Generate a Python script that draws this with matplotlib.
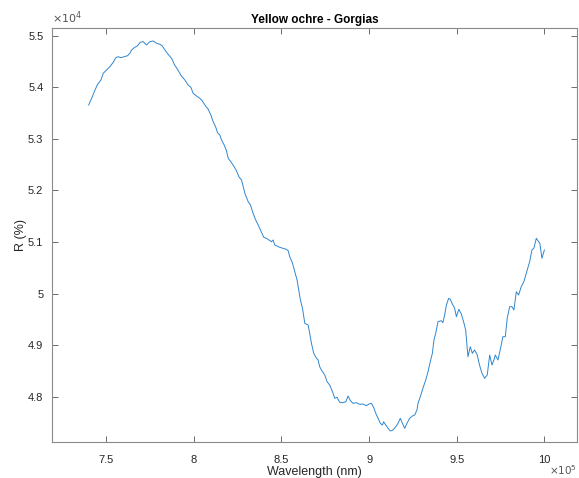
import matplotlib
matplotlib.use("Agg")
import matplotlib.pyplot as plt
import numpy as np
from matplotlib.ticker import FuncFormatter

# spectrum (wavelength in 1e3 nm units, reflectance)
wavelength_k = [740.0, 741.7, 743.6, 745.1, 747.0, 748.3, 750.2, 752.1, 754.0, 755.5,
                756.8, 758.4, 760.3, 762.2, 763.5, 764.5, 766.0, 767.9, 769.4, 771.1,
                773.0, 774.9, 776.8, 778.7, 780.6, 781.9, 783.5, 785.3, 787.3, 788.8,
                790.9, 792.9, 794.9, 796.7, 798.3, 799.6, 801.5, 803.4, 804.7, 806.7,
                808.2, 809.7, 811.0, 812.4, 813.5, 814.8, 815.8, 817.3, 818.6, 819.6,
                821.1, 823.0, 824.3, 825.7, 827.2, 828.1, 829.1, 831.0, 832.3, 833.8,
                835.3, 836.7, 838.0, 839.9, 841.4, 842.9, 844.3, 845.2, 846.2, 847.5,
                849.0, 850.9, 852.8, 853.8, 854.7, 856.3, 857.6, 858.9, 860.0, 860.8,
                862.0, 862.7, 863.3, 865.2, 866.1, 867.1, 868.4, 870.0, 870.9, 871.8,
                872.8, 874.7, 876.0, 877.5, 879.1, 880.4, 881.7, 883.2, 885.1, 886.7,
                888.0, 889.3, 890.8, 892.8, 894.6, 896.5, 898.5, 899.9, 901.3, 902.6,
                903.8, 905.1, 906.4, 907.6, 908.3, 909.5, 910.8, 912.1, 913.6, 915.2,
                916.5, 917.8, 919.0, 920.3, 921.6, 923.1, 924.7, 926.0, 927.3, 927.9,
                929.2, 930.7, 932.3, 933.6, 934.9, 936.1, 937.0, 938.0, 939.3, 941.2,
                942.1, 943.1, 944.1, 945.4, 946.3, 947.5, 948.8, 949.8, 951.2, 952.6,
                953.9, 955.1, 956.4, 957.7, 958.9, 960.2, 961.7, 963.0, 964.4, 965.9,
                967.4, 968.8, 970.1, 971.2, 972.0, 973.5, 975.0, 976.3, 977.7, 978.8,
                980.2, 981.5, 982.6, 984.0, 985.3, 986.8, 988.3, 989.7, 991.6, 992.9,
                994.0, 995.4, 996.7, 997.4, 998.6, 1000.0]
reflectance = [53657, 53787, 53948, 54058, 54141, 54271, 54335, 54399, 54484, 54574,
               54593, 54574, 54593, 54612, 54659, 54723, 54767, 54806, 54872, 54884,
               54820, 54884, 54897, 54853, 54833, 54806, 54723, 54640, 54562, 54446,
               54335, 54219, 54141, 54045, 54000, 53884, 53831, 53787, 53740, 53638,
               53574, 53463, 53333, 53236, 53120, 53076, 52979, 52882, 52771, 52624,
               52558, 52461, 52384, 52267, 52203, 52087, 51946, 51783, 51719, 51558,
               51428, 51331, 51234, 51093, 51074, 51041, 51008, 51041, 50944, 50924,
               50899, 50880, 50860, 50833, 50717, 50589, 50426, 50265, 50039, 49878,
               49717, 49554, 49426, 49393, 49233, 49039, 48845, 48748, 48715, 48585,
               48521, 48424, 48295, 48231, 48101, 47973, 47992, 47895, 47888, 47907,
               48017, 47926, 47876, 47888, 47857, 47862, 47829, 47862, 47876, 47798,
               47682, 47585, 47488, 47455, 47519, 47455, 47391, 47339, 47358, 47422,
               47488, 47585, 47488, 47391, 47488, 47585, 47630, 47649, 47746, 47876,
               48004, 48167, 48327, 48488, 48682, 48845, 49103, 49233, 49457, 49477,
               49438, 49587, 49781, 49911, 49891, 49800, 49717, 49554, 49698, 49607,
               49457, 49296, 48779, 48973, 48845, 48909, 48812, 48618, 48457, 48360,
               48424, 48812, 48618, 48715, 48812, 48715, 48942, 49167, 49167, 49523,
               49748, 49748, 49684, 50039, 49975, 50136, 50233, 50395, 50620, 50847,
               50880, 51074, 51008, 50977, 50686, 50847]

x_ticks = [7.5e5, 8e5, 8.5e5, 9e5, 9.5e5, 10e5]
y_ticks = [4.8e4, 4.9e4, 5.0e4, 5.1e4, 5.2e4, 5.3e4, 5.4e4, 5.5e4]

wavelength = np.array(wavelength_k) * 1000.0

plt.rcParams['font.family'] = ['Liberation Sans', 'DejaVu Sans']

fig = plt.figure(figsize=(5.79, 4.78), dpi=100)
ax = fig.add_axes([0.0893, 0.0753, 0.9072, 0.8655])

ax.plot(wavelength, reflectance, color='#2f86d0', linewidth=0.7)

ax.set_xlim(718900, 1018600)
ax.set_ylim(47126, 55143)
ax.set_xticks(x_ticks)
ax.set_yticks(y_ticks)
ax.xaxis.set_major_formatter(FuncFormatter(lambda v, p: '%g' % (v / 1e5)))
ax.yaxis.set_major_formatter(FuncFormatter(lambda v, p: '%g' % (v / 1e4)))

# matlab-like box
axis_col = '#8a8a8a'
for sp in ax.spines.values():
    sp.set_color(axis_col)
    sp.set_linewidth(0.8)
ax.tick_params(direction='in', length=4, width=0.6, color='#555555',
               top=True, right=True, labelsize=8, labelcolor='#262626', pad=6)
ax.tick_params(axis='x', pad=9)

ax.set_title('Yellow ochre - Gorgias', fontsize=8.5, fontweight='bold', color='#000000', pad=4)
ax.set_xlabel('Wavelength (nm)', fontsize=9, color='#262626', labelpad=1)
ax.set_ylabel('R (%)', fontsize=9, color='#262626', labelpad=0.5)

# exponent labels
ax.text(0.0, 1.005, r'$\times10^{4}$', transform=ax.transAxes, fontsize=8,
        color='#555555', ha='left', va='bottom')
ax.text(1.0, -0.052, r'$\times10^{5}$', transform=ax.transAxes, fontsize=7.5,
        color='#555555', ha='right', va='top')

fig.savefig('out.png', dpi=100)
